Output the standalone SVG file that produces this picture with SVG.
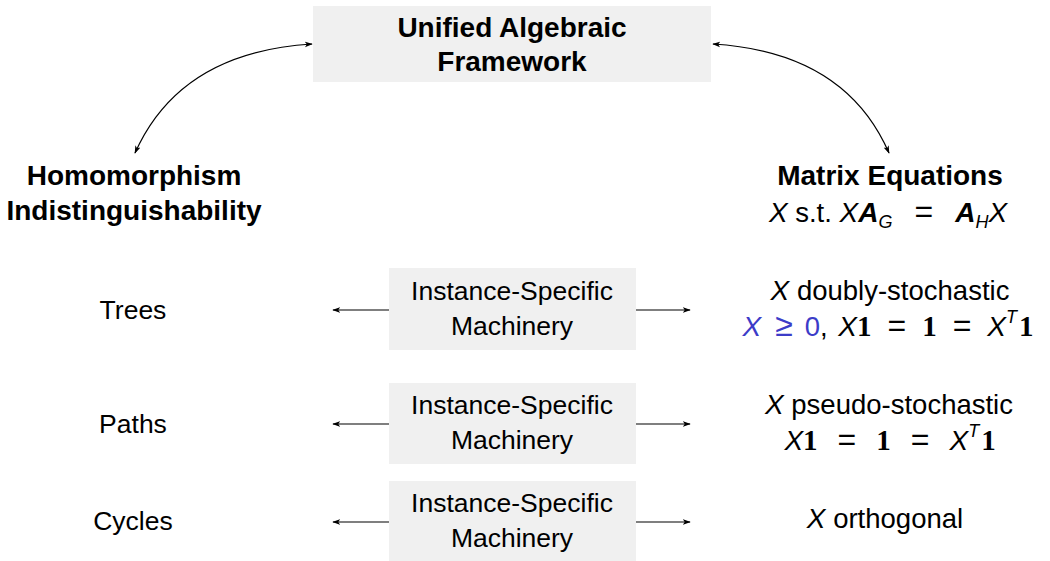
<svg xmlns="http://www.w3.org/2000/svg" width="1050" height="561" viewBox="0 0 1050 561">
<defs>
<style>
text{font-family:"Liberation Sans",Arial,sans-serif;font-size:26.5px;fill:#000;text-anchor:middle}
.b{font-weight:bold;font-size:28px}
.r{font-size:27.5px}
.box{fill:#f0f0f0}
.mi{font-style:italic;font-size:28px}
.bi{font-style:italic;font-weight:bold;font-size:28px}
.bf{font-family:"Liberation Serif","Times New Roman",serif;font-weight:bold;font-size:29px}
.eq{font-size:32px}
.sub{font-size:18px;font-style:italic}
.blue{fill:#3c3cc8}
.c{fill:none;stroke:#000;stroke-width:1.2}
</style>
<marker id="ah" viewBox="0 0 10 10" refX="9" refY="5" markerWidth="8" markerHeight="8" orient="auto-start-reverse" markerUnits="userSpaceOnUse">
<path d="M0,1.5 L10,5 L0,8.5 L2.5,5 Z" fill="#000"/>
</marker>
</defs>
<rect width="1050" height="561" fill="#fff"/>
<g id="connectors">
<path class="c" d="M135,153 Q180,52 312,44" marker-start="url(#ah)" marker-end="url(#ah)"/>
<path class="c" d="M713,44 Q845,52 889,153" marker-start="url(#ah)" marker-end="url(#ah)"/>
<path class="c" d="M389,310 L333,310" marker-end="url(#ah)"/>
<path class="c" d="M636,310 L690,310" marker-end="url(#ah)"/>
<path class="c" d="M389,424 L333,424" marker-end="url(#ah)"/>
<path class="c" d="M636,424 L690,424" marker-end="url(#ah)"/>
<path class="c" d="M389,522 L333,522" marker-end="url(#ah)"/>
<path class="c" d="M636,522 L690,522" marker-end="url(#ah)"/>
</g>
<g id="framework">
<rect class="box" x="313" y="6" width="398" height="76"/>
<text class="b" x="512" y="37">Unified Algebraic</text>
<text class="b" x="512" y="71">Framework</text>
</g>
<g id="homomorphism">
<text class="b" x="134" y="185">Homomorphism</text>
<text class="b" x="134" y="220">Indistinguishability</text>
</g>
<g id="matrix-equations">
<text class="b" x="890" y="185">Matrix Equations</text>
<text class="r" x="888" y="222"><tspan class="mi">X</tspan> s.t. <tspan class="mi">X</tspan><tspan class="bi">A</tspan><tspan class="sub" dy="6">G</tspan><tspan class="eq" dy="-6" dx="22">=</tspan><tspan class="bi" dx="22">A</tspan><tspan class="sub" dy="6">H</tspan><tspan class="mi" dy="-6">X</tspan></text>
</g>
<g id="trees">
<text x="133" y="319">Trees</text>
</g>
<g id="machinery-1">
<rect class="box" x="389" y="268" width="247" height="82"/>
<text x="512" y="300">Instance-Specific</text>
<text x="512" y="335">Machinery</text>
</g>
<g id="doubly-stochastic">
<text class="r" x="890" y="300"><tspan class="mi">X</tspan> doubly-stochastic</text>
<text class="r" x="888" y="336"><tspan class="mi blue">X</tspan><tspan class="blue eq" dx="14">≥</tspan><tspan class="blue" dx="12">0</tspan>, <tspan class="mi" dx="3">X</tspan><tspan class="bf">1</tspan><tspan class="eq" dx="16">=</tspan><tspan class="bf" dx="16">1</tspan><tspan class="eq" dx="16">=</tspan><tspan class="mi" dx="16">X</tspan><tspan class="sub" dy="-13">T</tspan><tspan class="bf" dx="2" dy="13">1</tspan></text>
</g>
<g id="paths">
<text x="133" y="433">Paths</text>
</g>
<g id="machinery-2">
<rect class="box" x="389" y="383" width="247" height="81"/>
<text x="512" y="414">Instance-Specific</text>
<text x="512" y="449">Machinery</text>
</g>
<g id="pseudo-stochastic">
<text class="r" x="889" y="414"><tspan class="mi">X</tspan> pseudo-stochastic</text>
<text class="r" x="890" y="450"><tspan class="mi">X</tspan><tspan class="bf">1</tspan><tspan class="eq" dx="20">=</tspan><tspan class="bf" dx="20">1</tspan><tspan class="eq" dx="20">=</tspan><tspan class="mi" dx="20">X</tspan><tspan class="sub" dy="-13">T</tspan><tspan class="bf" dx="2" dy="13">1</tspan></text>
</g>
<g id="cycles">
<text x="133" y="530">Cycles</text>
</g>
<g id="machinery-3">
<rect class="box" x="389" y="481" width="247" height="82"/>
<text x="512" y="512">Instance-Specific</text>
<text x="512" y="547">Machinery</text>
</g>
<g id="orthogonal">
<text class="r" x="885" y="528"><tspan class="mi">X</tspan> orthogonal</text>
</g>
</svg>
